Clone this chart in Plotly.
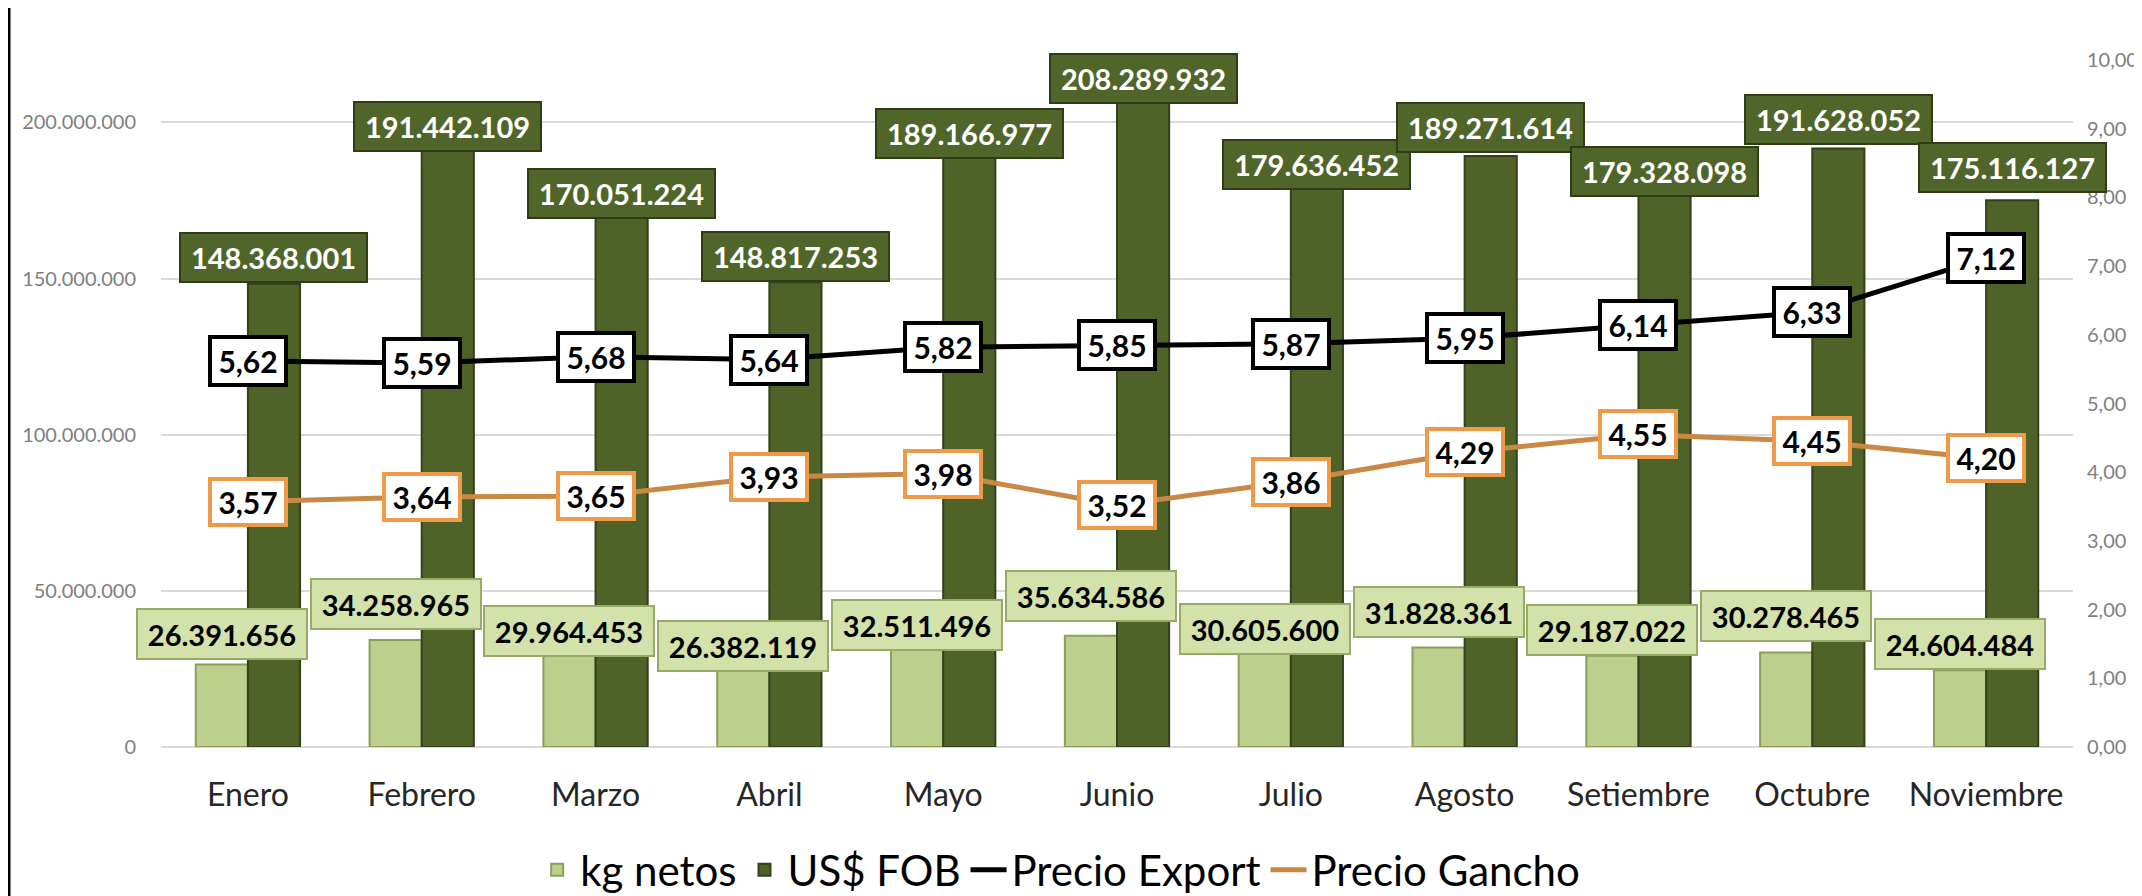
import plotly.graph_objects as go

# ---------------- data ----------------
months = ["Enero", "Febrero", "Marzo", "Abril", "Mayo", "Junio", "Julio",
          "Agosto", "Setiembre", "Octubre", "Noviembre"]
kg_netos = [26391656, 34258965, 29964453, 26382119, 32511496, 35634586,
            30605600, 31828361, 29187022, 30278465, 24604484]
usd_fob = [148368001, 191442109, 170051224, 148817253, 189166977, 208289932,
           179636452, 189271614, 179328098, 191628052, 175116127]
precio_export = [5.62, 5.59, 5.68, 5.64, 5.82, 5.85, 5.87, 5.95, 6.14, 6.33, 7.12]
precio_gancho = [3.57, 3.64, 3.65, 3.93, 3.98, 3.52, 3.86, 4.29, 4.55, 4.45, 4.20]

# label vertical adjustments (px), as placed in the original
kg_label_lift_px = [5, 10, -4, -7, -6, 14, -4, 10, 0, 10, 0]
fob_label_lift_px = [1, -3, -3, 0, -3, -7, -4, 3, -10, 4, 7]

# ---------------- layout geometry / styles ----------------
PAGE_OFFSET = 8            # default body margin of the html page
W, H = 2142 - PAGE_OFFSET, 896 - PAGE_OFFSET
M_L, M_R, M_T, M_B = 161 - PAGE_OFFSET, 69, 60 - PAGE_OFFSET, 149
plot_w = W - M_L - M_R
plot_h = H - M_T - M_B
BARGAP = 0.40
cat_px = plot_w / len(months)
bar_shift = (1 - BARGAP) / 4 * cat_px  # distance from category center to each bar center

FONT = "Lato"
LIGHT = "#bccf8c"
LIGHT_EDGE = "#8d9e5c"
DARK = "#4f6228"
DARK_EDGE = "#33421a"
ORANGE_LINE = "#c98843"
ORANGE_BOX = "#ef9a48"


def fmt_int(v):
    return f"{v:,}".replace(",", ".")


def fmt_dec(v):
    return f"{v:.2f}".replace(".", ",")


fig = go.Figure()
fig.add_trace(go.Bar(
    x=months, y=kg_netos, name="kg netos",
    marker=dict(color=LIGHT, line=dict(color=LIGHT_EDGE, width=2)),
))
fig.add_trace(go.Bar(
    x=months, y=usd_fob, name="US$ FOB",
    marker=dict(color=DARK, line=dict(color=DARK_EDGE, width=2)),
))
fig.add_trace(go.Scatter(
    x=months, y=precio_export, name="Precio Export", yaxis="y2",
    mode="lines", line=dict(color="black", width=5),
))
fig.add_trace(go.Scatter(
    x=months, y=precio_gancho, name="Precio Gancho", yaxis="y2",
    mode="lines", line=dict(color=ORANGE_LINE, width=5),
))

annotations = []
for i, m in enumerate(months):
    annotations.append(dict(
        x=m, y=kg_netos[i], xref="x", yref="y",
        xshift=-bar_shift, yshift=kg_label_lift_px[i],
        yanchor="bottom", xanchor="center", showarrow=False,
        text=f"<b>{fmt_int(kg_netos[i])}</b>",
        font=dict(family=FONT, size=29, color="black"),
        bgcolor="#d3e1aa", bordercolor="#98aa66", borderwidth=2, borderpad=0,
        width=168, height=48,
    ))
    annotations.append(dict(
        x=m, y=usd_fob[i], xref="x", yref="y",
        xshift=bar_shift, yshift=fob_label_lift_px[i],
        yanchor="bottom", xanchor="center", showarrow=False,
        text=f"<b>{fmt_int(usd_fob[i])}</b>",
        font=dict(family=FONT, size=29, color="white"),
        bgcolor="#50652a", bordercolor="#2f3c16", borderwidth=2, borderpad=0,
        width=185, height=47,
    ))
    annotations.append(dict(
        x=m, y=precio_export[i], xref="x", yref="y2",
        yanchor="middle", xanchor="center", showarrow=False,
        text=f"<b>{fmt_dec(precio_export[i])}</b>",
        font=dict(family=FONT, size=30, color="black"),
        bgcolor="white", bordercolor="black", borderwidth=4, borderpad=0,
        width=72, height=44,
    ))
    annotations.append(dict(
        x=m, y=precio_gancho[i], xref="x", yref="y2",
        yanchor="middle", xanchor="center", showarrow=False,
        text=f"<b>{fmt_dec(precio_gancho[i])}</b>",
        font=dict(family=FONT, size=30, color="black"),
        bgcolor="white", bordercolor=ORANGE_BOX, borderwidth=4, borderpad=0,
        width=72, height=42,
    ))

fig.update_layout(
    width=W, height=H,
    margin=dict(l=M_L, r=M_R, t=M_T, b=M_B, pad=0, autoexpand=False),
    paper_bgcolor="white", plot_bgcolor="white",
    separators=",.",
    barmode="group", bargap=BARGAP, bargroupgap=0,
    font=dict(family=FONT, color="#262626"),
    showlegend=True,
    legend=dict(
        orientation="h", x=0.47, xanchor="center",
        y=-(M_B + 8) / plot_h, yanchor="bottom",
        font=dict(family=FONT, size=42, color="black"),
        itemwidth=36, tracegroupgap=0, bgcolor="rgba(0,0,0,0)",
    ),
    xaxis=dict(
        type="category", range=[-0.5, len(months) - 0.5], automargin=False,
        showgrid=False, showline=False, ticks="",
        tickfont=dict(family=FONT, size=32, color="#262626"),
        ticklabelstandoff=26,
    ),
    yaxis=dict(
        range=[0, 220e6], dtick=50e6, tickformat=",d", automargin=False,
        showgrid=True, gridcolor="#d9d9d9", gridwidth=2,
        zeroline=True, zerolinecolor="#d9d9d9", zerolinewidth=2,
        showline=False, ticks="",
        tickfont=dict(family=FONT, size=20, color="#7f7f7f"),
        ticklabelstandoff=24,
    ),
    yaxis2=dict(
        overlaying="y", side="right", range=[0, 10], dtick=1, tickformat=".2f",
        automargin=False,
        showgrid=False, zeroline=False, showline=False, ticks="",
        tickfont=dict(family=FONT, size=20, color="#7f7f7f"),
        ticklabelstandoff=13,
    ),
    annotations=annotations,
    shapes=[dict(
        type="line", xref="paper", yref="paper",
        x0=(9 - PAGE_OFFSET - M_L) / plot_w, x1=(9 - PAGE_OFFSET - M_L) / plot_w,
        y0=-0.4, y1=1.3,
        line=dict(color="black", width=3),
    )],
)

fig.write_html("out.html")
